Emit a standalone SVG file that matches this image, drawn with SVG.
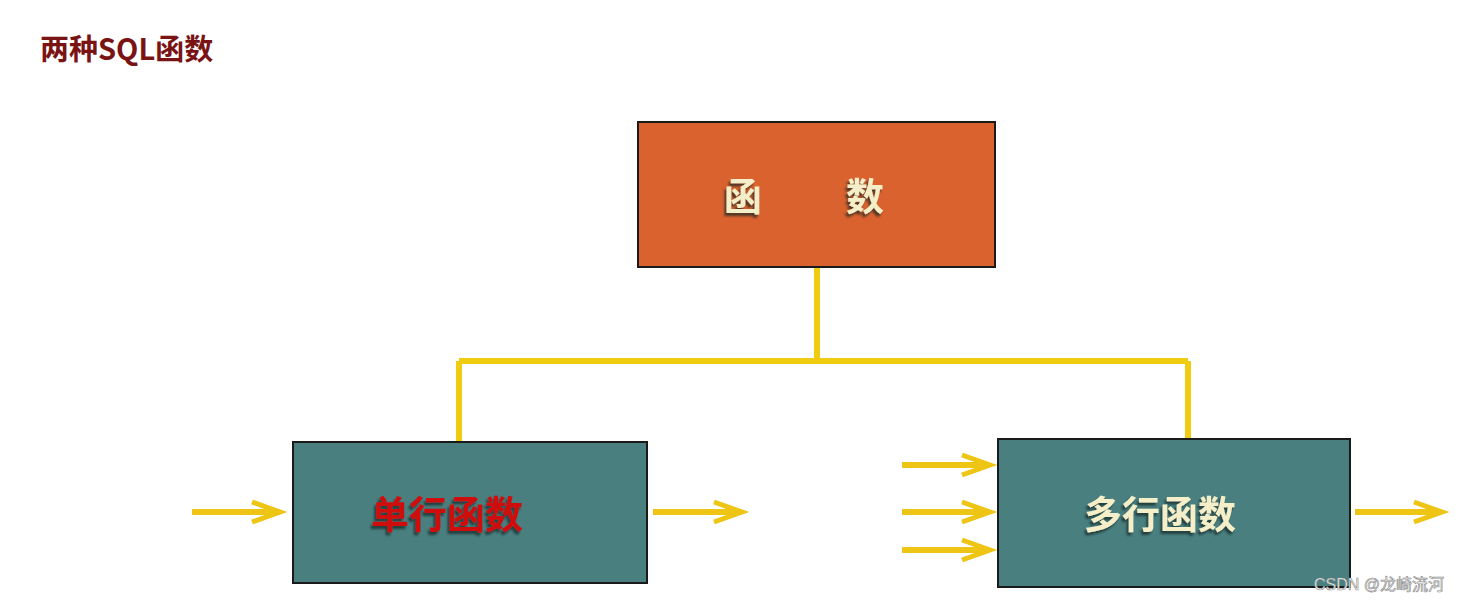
<svg xmlns="http://www.w3.org/2000/svg" width="1460" height="602" viewBox="0 0 1460 602">
<defs>
<filter id="sh" x="-10%" y="-20%" width="130%" height="150%"><feDropShadow dx="-2" dy="3" stdDeviation="1" flood-color="#102020" flood-opacity="0.7"/></filter>
<style>
.c{stroke:#f0cc10;stroke-width:6;fill:none}
.a{stroke:#eec514;stroke-width:6;fill:none}
.h{stroke:#eec514;stroke-width:5;fill:none;stroke-linejoin:miter}
.box{stroke:#1a1a1a;stroke-width:2}
.t{font-family:"Noto Sans CJK SC","Liberation Sans",sans-serif;font-weight:bold;font-size:38px;text-anchor:middle;filter:url(#sh)}
</style>
</defs>
<rect width="1460" height="602" fill="#fff"/>
<text x="40" y="60" font-family="Noto Sans CJK SC,Liberation Sans,sans-serif" font-weight="bold" font-size="29" fill="#7a1414">两种SQL函数</text>
<g id="connectors">
<path class="c" d="M817 267V361M459 361H1188M459 361V442M1188 361V439"/>
<g id="arrows">
<path class="a" d="M192 512H278M653 512H740M902 465H988M902 512H988M902 550H988M1355 512H1440"/>
<path class="h" d="M252 502L280 512L252 522M714 502L742 512L714 522M962 455L990 465L962 475M962 502L990 512L962 522M962 540L990 550L962 560M1414 502L1442 512L1414 522"/>
</g>
</g>
<g id="func">
<rect class="box" x="638" y="122" width="357" height="145" fill="#d9622e"/>
<text class="t" x="743" y="210" fill="#f4efc8">函</text>
<text class="t" x="865" y="210" fill="#f4efc8">数</text>
</g>
<g id="single">
<rect class="box" x="293" y="442" width="354" height="141" fill="#4a7f7f"/>
<text class="t" x="447" y="528" fill="#d01010">单行函数</text>
</g>
<g id="multi">
<rect class="box" x="998" y="439" width="352" height="148" fill="#4a7f7f"/>
<text class="t" x="1160" y="528" fill="#f4efc8">多行函数</text>
</g>
<text x="1444" y="590" text-anchor="end" font-family="Liberation Sans,Noto Sans CJK SC,sans-serif" font-size="16" fill="#ffffff" stroke="#888" stroke-width="0.6">CSDN @龙崎流河</text>
</svg>
